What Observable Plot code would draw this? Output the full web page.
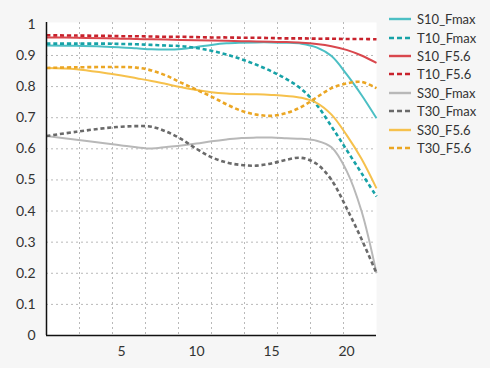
<!DOCTYPE html>
<html>
<head>
<meta charset="utf-8">
<script src="https://cdn.jsdelivr.net/npm/d3@7"></script>
<script src="https://cdn.jsdelivr.net/npm/@observablehq/plot@0.6"></script>
<style>
  html, body { margin: 0; padding: 0; background: #f6f6f6; }
  #wrap { position: relative; width: 490px; height: 368px; font-family: Lato, "Open Sans", sans-serif; }
  #legend { position: absolute; left: 388px; top: 10px; font-size: 13px; color: #333; }
  .row { display: flex; align-items: center; height: 18.4px; }
  .row svg { margin-right: 5px; }
</style>
</head>
<body>
<div id="wrap"><div id="chart"></div><div id="legend"></div></div>
<script>
const xs = [0, 2, 4, 5, 6, 7, 8, 9, 10, 11, 12, 13, 14, 15, 16, 17, 18, 19, 20, 21, 22];

const S10_Fmax = [0.932, 0.931, 0.928, 0.926, 0.923, 0.920, 0.919, 0.921, 0.927, 0.934, 0.939, 0.941, 0.942, 0.942, 0.941, 0.938, 0.926, 0.898, 0.840, 0.773, 0.698];
const T10_Fmax = [0.938, 0.938, 0.938, 0.937, 0.936, 0.934, 0.932, 0.930, 0.924, 0.915, 0.903, 0.888, 0.870, 0.849, 0.824, 0.792, 0.742, 0.672, 0.597, 0.522, 0.447];
const S10_F56 = [0.958, 0.957, 0.955, 0.954, 0.953, 0.952, 0.951, 0.950, 0.949, 0.948, 0.947, 0.946, 0.945, 0.944, 0.943, 0.941, 0.937, 0.930, 0.918, 0.900, 0.876];
const T10_F56 = [0.965, 0.964, 0.963, 0.962, 0.962, 0.961, 0.960, 0.960, 0.959, 0.958, 0.958, 0.957, 0.957, 0.956, 0.955, 0.955, 0.954, 0.954, 0.953, 0.953, 0.952];
const S30_Fmax = [0.641, 0.629, 0.617, 0.611, 0.605, 0.601, 0.606, 0.611, 0.617, 0.624, 0.630, 0.635, 0.636, 0.636, 0.634, 0.632, 0.626, 0.605, 0.530, 0.400, 0.200];
const T30_Fmax = [0.641, 0.655, 0.667, 0.671, 0.673, 0.671, 0.655, 0.631, 0.600, 0.573, 0.556, 0.548, 0.546, 0.553, 0.565, 0.571, 0.552, 0.500, 0.410, 0.310, 0.200];
const S30_F56 = [0.860, 0.856, 0.843, 0.836, 0.827, 0.818, 0.808, 0.798, 0.789, 0.782, 0.778, 0.776, 0.775, 0.773, 0.770, 0.764, 0.748, 0.710, 0.645, 0.568, 0.473];
const T30_F56 = [0.860, 0.862, 0.863, 0.863, 0.861, 0.852, 0.835, 0.812, 0.790, 0.768, 0.743, 0.722, 0.710, 0.706, 0.715, 0.735, 0.765, 0.795, 0.810, 0.815, 0.795];

const seriesNames = ["S10_Fmax", "T10_Fmax", "S10_F5.6", "T10_F5.6", "S30_Fmax", "T30_Fmax", "S30_F5.6", "T30_F5.6"];
const seriesValues = [S10_Fmax, T10_Fmax, S10_F56, T10_F56, S30_Fmax, T30_Fmax, S30_F56, T30_F56];
const seriesColors = ["#4cbfc4", "#17a2a7", "#d9474d", "#c8222c", "#b8b8b8", "#6a6a6a", "#f6c14c", "#eba623"];
const seriesDashed = [false, true, false, true, false, true, false, true];

const xGrid = [2.2, 4.4, 6.6, 8.8, 11, 13.2, 15.4, 17.6, 19.8];
const yGrid = [0.1, 0.2, 0.3, 0.4, 0.5, 0.6, 0.7, 0.8, 0.9];
const xTicks = [5, 10, 15, 20];
const yTicks = [0, 0.1, 0.2, 0.3, 0.4, 0.5, 0.6, 0.7, 0.8, 0.9, 1];

const rows = [];
seriesNames.forEach((name, i) => {
  xs.forEach((x, j) => rows.push({series: name, x, y: seriesValues[i][j]}));
});

const lineMarks = seriesNames.map((name, i) =>
  Plot.line(rows.filter(d => d.series === name), {
    x: "x", y: "y", curve: "catmull-rom",
    stroke: seriesColors[i],
    strokeWidth: seriesDashed[i] ? 2.6 : 2,
    strokeLinecap: "butt",
    strokeDasharray: seriesDashed[i] ? "4,2.8" : null
  })
);

const chart = Plot.plot({
  width: 490,
  height: 368,
  marginLeft: 46,
  marginRight: 114,
  marginTop: 22,
  marginBottom: 33,
  style: {background: "transparent", fontFamily: "Lato, 'Open Sans', sans-serif", color: "#333"},
  x: {domain: [0, 22]},
  y: {domain: [0, 1.006]},
  marks: [
    Plot.frame({fill: "white", stroke: "none"}),
    Plot.ruleY(yGrid, {stroke: "#b9b9b9", strokeDasharray: "2,3", strokeWidth: 1}),
    Plot.ruleX(xGrid, {stroke: "#b9b9b9", strokeDasharray: "2,3", strokeWidth: 1}),
    ...lineMarks,
    Plot.ruleX([0], {stroke: "#111", strokeWidth: 1.5}),
    Plot.ruleY([0], {stroke: "#111", strokeWidth: 1.5}),
    Plot.axisY({ticks: yTicks, tickSize: 0, tickPadding: 11, fontSize: 14, tickFormat: d => String(d), label: null}),
    Plot.axisX({ticks: xTicks, tickSize: 0, tickPadding: 11, fontSize: 14, tickFormat: d => String(d), label: null})
  ]
});
document.getElementById("chart").appendChild(chart);

const legend = document.getElementById("legend");
seriesNames.forEach((name, i) => {
  const row = document.createElement("div");
  row.className = "row";
  row.innerHTML = `<svg width="24" height="6"><line x1="1" x2="23" y1="3" y2="3" stroke="${seriesColors[i]}" stroke-width="${seriesDashed[i] ? 2.6 : 2.4}" ${seriesDashed[i] ? 'stroke-dasharray="5,3"' : ''}/></svg><span>${name}</span>`;
  legend.appendChild(row);
});
</script>
</body>
</html>
